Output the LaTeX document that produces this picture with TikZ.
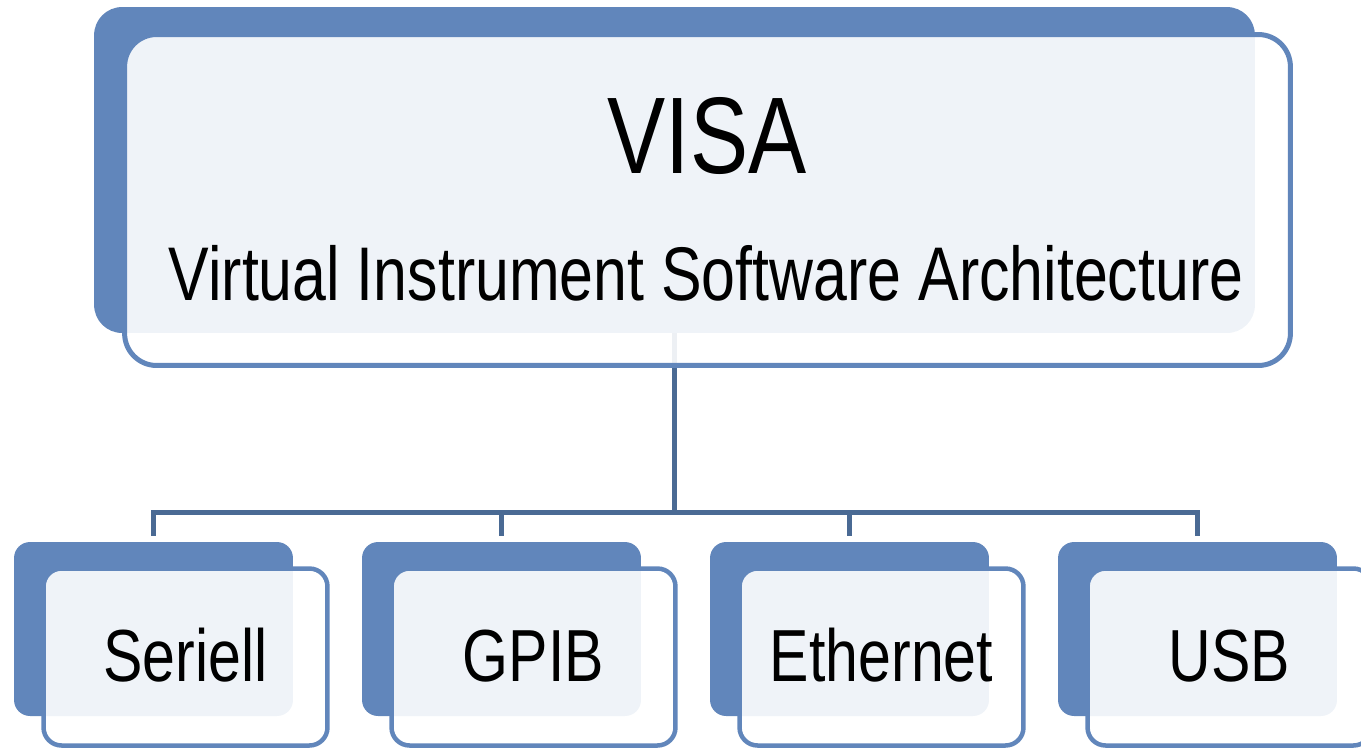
\documentclass[tikz,border=0pt]{standalone}
\usepackage{fontspec}
\setmainfont[FakeStretch=0.8]{Liberation Sans}
\usetikzlibrary{positioning}
\definecolor{visablue}{RGB}{97,134,187}
\definecolor{visaline}{RGB}{74,106,148}

\begin{document}
\begin{tikzpicture}[x=0.02cm,y=-0.02cm,
		shadowbox/.style={rectangle,fill=visablue,draw=none,inner sep=0pt},
		frontbox/.style={rectangle,draw=visablue,fill=white,fill opacity=0.9,inner sep=0pt},
		link/.style={draw=visaline,line width=0.1cm,line join=miter},
		boxtext/.style={anchor=base,text=black,inner sep=0pt}]
	\useasboundingbox (0,0) rectangle (1361,748);
	\coordinate (bus) at (675,512);
	% top box
	\node[shadowbox,rounded corners=0.56cm,minimum width=23.22cm,minimum height=6.52cm] (visashadow) at (674.5,170) {};
	\draw[link] (visashadow.south) -- (visashadow.south |- bus);
	\node[frontbox,line width=0.1cm,rounded corners=0.64cm,minimum width=23.32cm,minimum height=6.62cm] (visafront) at (707.5,200) {};
	\node[boxtext,font=\fontsize{62}{70}\selectfont] (visa) at (707,173) {VISA};
	\node[boxtext,font=\fontsize{43.3}{50}\selectfont] (visafull) at (706,300) {Virtual Instrument Software Architecture};
	% interfaces
	\foreach \name [count=\i from 0] in {Seriell,GPIB,Ethernet,USB} {
		\node[shadowbox,rounded corners=0.32cm,minimum width=5.58cm,minimum height=3.48cm] (shadow\i) at (153.5+348*\i,629) {};
		\node[frontbox,line width=0.09cm,rounded corners=0.36cm,minimum width=5.68cm,minimum height=3.54cm] (front\i) at (185.5+348*\i,657) {};
		\node[boxtext,font=\fontsize{42}{48}\selectfont] (iface\i) at (185.5+348*\i,681) {\name};
	}
	\draw[link] ([yshift=0.12cm]shadow0.north) -- (shadow0.north |- bus) -- (shadow3.north |- bus) -- ([yshift=0.12cm]shadow3.north);
	\foreach \i in {1,2}
		\draw[link] ([yshift=0.12cm]shadow\i.north) -- (shadow\i.north |- bus);
\end{tikzpicture}
\end{document}
